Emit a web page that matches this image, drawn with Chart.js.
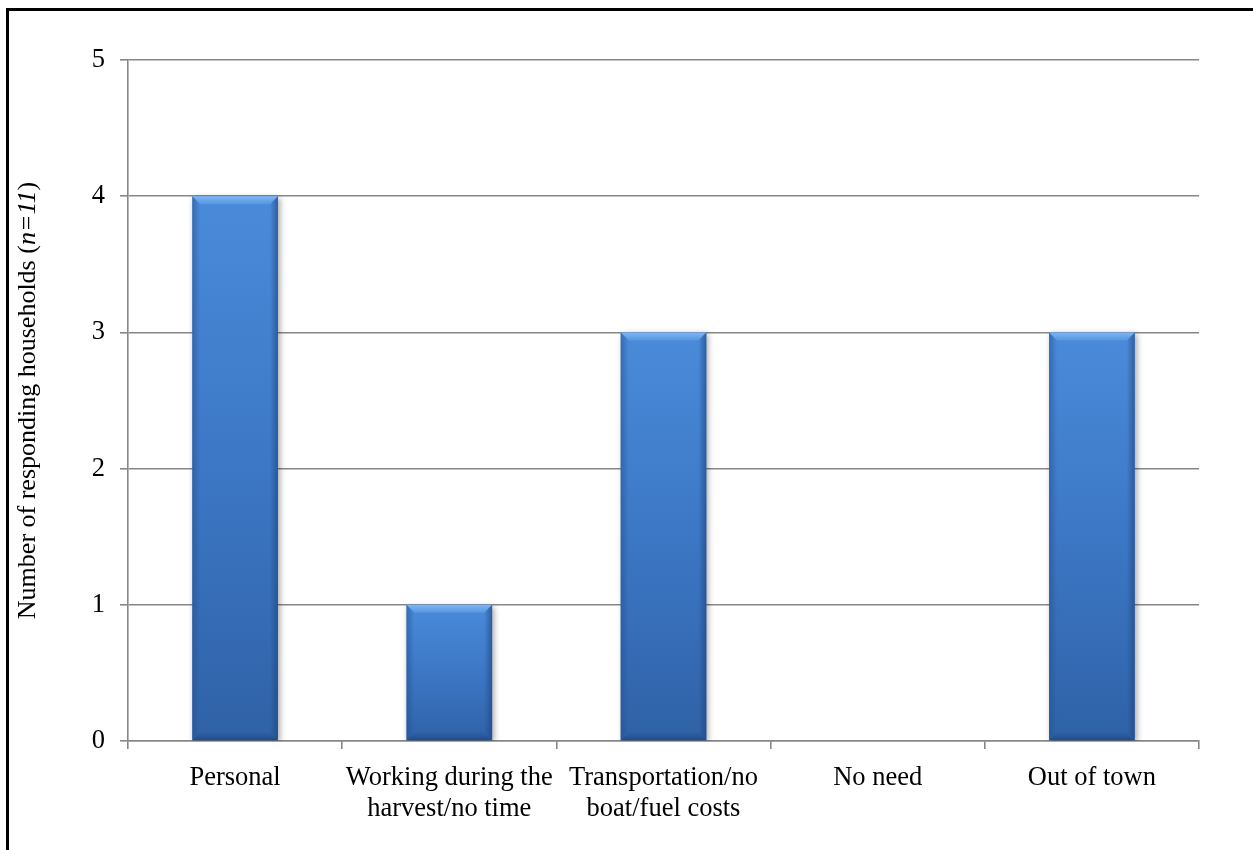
<!DOCTYPE html>
<html>
<head>
<meta charset="utf-8">
<script src="https://cdn.jsdelivr.net/npm/chart.js@4/dist/chart.umd.min.js"></script>
<style>
  html, body { margin: 0; padding: 0; background: #ffffff; }
  #wrap { position: relative; width: 1253px; height: 850px; }
</style>
</head>
<body>
<div id="wrap"><canvas id="c" width="1253" height="850"></canvas></div>
<script>
// Reasons households gave for not taking part in the harvest
const categories = [
  "Personal",
  ["Working during the", "harvest/no time"],
  ["Transportation/no", "boat/fuel costs"],
  "No need",
  "Out of town"
];
const households = [4, 1, 3, 0, 3];
const yTicks = [0, 1, 2, 3, 4, 5];

const FONT = "'Liberation Serif', 'Times New Roman', serif";
const GRID = '#878787';

// Vertical gradient for each bar, spanning its own top to base
function barFill(ctx) {
  const chart = ctx.chart;
  const ys = chart.scales.y;
  if (!ys || ctx.raw === undefined) return '#3b76c4';
  const top = ys.getPixelForValue(ctx.raw);
  const base = ys.getPixelForValue(0);
  if (!isFinite(top) || top === base) return '#3b76c4';
  const g = chart.ctx.createLinearGradient(0, top, 0, base);
  g.addColorStop(0, '#4a8bd9');
  g.addColorStop(0.5, '#3c77c5');
  g.addColorStop(1, '#2f62a6');
  return g;
}

// Outer frame around the figure
const framePlugin = {
  id: 'frame',
  beforeDraw(chart) {
    const c = chart.ctx;
    c.save();
    c.strokeStyle = '#000';
    c.lineWidth = 3;
    c.beginPath();
    c.moveTo(7.5, 900);
    c.lineTo(7.5, 9.5);
    c.lineTo(1300, 9.5);
    c.stroke();
    c.restore();
  }
};

// Soft drop shadow under the bars
const shadowPlugin = {
  id: 'barShadow',
  beforeDatasetsDraw(chart) {
    const c = chart.ctx;
    c.save();
    c.shadowColor = 'rgba(0,0,0,0.35)';
    c.shadowBlur = 6;
    c.shadowOffsetX = 2;
    c.shadowOffsetY = 2;
  },
  afterDatasetsDraw(chart) {
    chart.ctx.restore();
  }
};

// Bevelled edges on each bar
const bevelPlugin = {
  id: 'bevel',
  afterDatasetsDraw(chart) {
    const c = chart.ctx;
    const meta = chart.getDatasetMeta(0);
    meta.data.forEach((bar, i) => {
      if (!households[i]) return;
      const L = bar.x - bar.width / 2, R = bar.x + bar.width / 2;
      const T = bar.y, B = bar.base;
      const h = B - T;
      const s = Math.min(8, h / 3);
      c.save();
      // top bevel (light)
      let g = c.createLinearGradient(0, T, 0, T + s);
      g.addColorStop(0, '#80b5f1');
      g.addColorStop(1, '#5596e2');
      c.fillStyle = g;
      c.beginPath();
      c.moveTo(L, T); c.lineTo(R, T); c.lineTo(R - s, T + s); c.lineTo(L + s, T + s); c.closePath();
      c.fill();
      // left bevel
      g = c.createLinearGradient(L, 0, L + s, 0);
      g.addColorStop(0, 'rgba(35,80,145,0.55)');
      g.addColorStop(1, 'rgba(35,80,145,0.0)');
      c.fillStyle = g;
      c.beginPath();
      c.moveTo(L, T); c.lineTo(L + s, T + s); c.lineTo(L + s, B - s); c.lineTo(L, B); c.closePath();
      c.fill();
      // right bevel
      g = c.createLinearGradient(R, 0, R - s, 0);
      g.addColorStop(0, 'rgba(30,70,130,0.65)');
      g.addColorStop(1, 'rgba(30,70,130,0.0)');
      c.fillStyle = g;
      c.beginPath();
      c.moveTo(R, T); c.lineTo(R - s, T + s); c.lineTo(R - s, B - s); c.lineTo(R, B); c.closePath();
      c.fill();
      // bottom bevel (dark)
      g = c.createLinearGradient(0, B - s, 0, B);
      g.addColorStop(0, 'rgba(40,85,150,0.2)');
      g.addColorStop(1, 'rgba(30,65,120,0.75)');
      c.fillStyle = g;
      c.beginPath();
      c.moveTo(L, B); c.lineTo(R, B); c.lineTo(R - s, B - s); c.lineTo(L + s, B - s); c.closePath();
      c.fill();
      c.restore();
    });
  }
};

// Rotated axis title with italic sample size
const yTitlePlugin = {
  id: 'yTitle',
  afterDraw(chart) {
    const c = chart.ctx;
    const area = chart.chartArea;
    const parts = [
      { t: 'Number of responding households (', f: '26px ' + FONT },
      { t: 'n=11', f: 'italic 26px ' + FONT },
      { t: ')', f: '26px ' + FONT }
    ];
    c.save();
    let total = 0;
    parts.forEach(p => { c.font = p.f; p.w = c.measureText(p.t).width; total += p.w; });
    c.translate(28, (area.top + area.bottom) / 2);
    c.rotate(-Math.PI / 2);
    c.fillStyle = '#000';
    c.textBaseline = 'middle';
    c.textAlign = 'left';
    let x = -total / 2;
    parts.forEach(p => { c.font = p.f; c.fillText(p.t, x, 0); x += p.w; });
    c.restore();
  }
};

new Chart(document.getElementById('c'), {
  type: 'bar',
  data: {
    labels: categories,
    datasets: [{
      data: households,
      backgroundColor: barFill,
      borderWidth: 0,
      barPercentage: 0.4,
      categoryPercentage: 1.0
    }]
  },
  options: {
    responsive: false,
    animation: false,
    devicePixelRatio: 1,
    layout: { padding: { left: 0, top: 60, right: 54, bottom: 0 } },
    plugins: {
      legend: { display: false },
      tooltip: { enabled: false },
      title: { display: false }
    },
    scales: {
      x: {
        offset: true,
        grid: {
          offset: true,
          drawOnChartArea: false,
          drawTicks: true,
          tickLength: 8,
          color: GRID,
          lineWidth: 1.6
        },
        border: { display: true, color: GRID, width: 1.6 },
        ticks: {
          color: '#000',
          font: { family: FONT, size: 26.5, lineHeight: 1.18 },
          padding: 13,
          maxRotation: 0,
          autoSkip: false
        },
        afterFit(scale) { scale.height = 850 - 741; }
      },
      y: {
        min: 0,
        max: 5,
        afterBuildTicks(scale) { scale.ticks = yTicks.map(v => ({ value: v })); },
        grid: {
          color: GRID,
          lineWidth: 1.6,
          tickLength: 8,
          drawTicks: true
        },
        border: { display: true, color: GRID, width: 1.6 },
        ticks: {
          color: '#000',
          font: { family: FONT, size: 26.5 },
          padding: 15
        },
        afterFit(scale) { scale.width = 128; }
      }
    }
  },
  plugins: [framePlugin, shadowPlugin, bevelPlugin, yTitlePlugin]
});
</script>
</body>
</html>
